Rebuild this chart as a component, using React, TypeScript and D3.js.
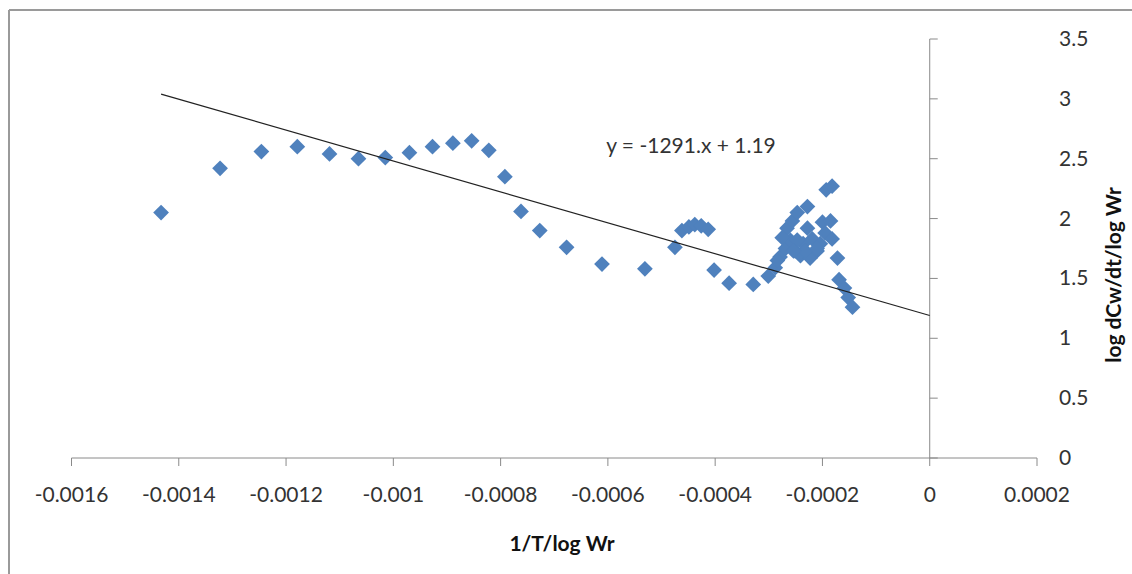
import React from 'react';
import * as d3 from 'd3';

// scatter values
const xVals = [
  -0.001433, -0.001323, -0.001246, -0.001179, -0.001119, -0.001065, -0.001015, -0.00097,
  -0.000927, -0.000889, -0.000854, -0.000822, -0.000792, -0.000762, -0.000727, -0.000677,
  -0.000611, -0.000531, -0.000475, -0.000462, -0.000449, -0.000438, -0.000426, -0.000413,
  -0.000402, -0.000374, -0.000329, -0.000301, -0.000288, -0.000279, -0.000269, -0.00026,
  -0.000266, -0.000256, -0.000247, -0.000228, -0.000251, -0.000236, -0.000241, -0.000223,
  -0.00021, -0.000219, -0.0002, -0.000185, -0.000195, -0.000182, -0.000172, -0.000193,
  -0.000182, -0.000169, -0.000159, -0.000152, -0.000144, -0.000204, -0.000232,
  -0.000228, -0.000275, -0.000247, -0.000254, -0.00021, -0.000284,
];
const yVals = [
  2.05, 2.42, 2.56, 2.6, 2.54, 2.5, 2.51, 2.55,
  2.6, 2.63, 2.65, 2.57, 2.35, 2.06, 1.9, 1.76,
  1.62, 1.58, 1.76, 1.9, 1.93, 1.95, 1.94, 1.91,
  1.57, 1.46, 1.45, 1.52, 1.59, 1.68, 1.75, 1.82,
  1.92, 1.98, 2.05, 2.1, 1.73, 1.79, 1.69, 1.67,
  1.73, 1.83, 1.97, 1.98, 1.88, 1.83, 1.67, 2.24,
  2.27, 1.49, 1.42, 1.34, 1.26, 1.79, 1.73,
  1.92, 1.84, 1.82, 1.73, 1.75, 1.65,
];

const xTicks = [-0.0016, -0.0014, -0.0012, -0.001, -0.0008, -0.0006, -0.0004, -0.0002, 0, 0.0002];
const xTickLabels = ['-0.0016', '-0.0014', '-0.0012', '-0.001', '-0.0008', '-0.0006', '-0.0004', '-0.0002', '0', '0.0002'];
const yTicks = [0, 0.5, 1, 1.5, 2, 2.5, 3, 3.5];
const yTickLabels = ['0', '0.5', '1', '1.5', '2', '2.5', '3', '3.5'];

const slope = -1291;
const intercept = 1.19;
const equation = 'y = -1291.x + 1.19';
const xTitle = '1/T/log Wr';
const yTitle = 'log dCw/dt/log Wr';

const W = 1132;
const H = 574;
const font = 'Lato, "Open Sans", sans-serif';
const axisColor = '#8a8a8a';
const textColor = '#333';

export default function App() {
  const x = d3.scaleLinear().domain([-0.0016, 0.0002]).range([71.5, 1037]);
  const y = d3.scaleLinear().domain([0, 3.5]).range([458, 39]);

  const points = xVals.map((v, i) => [v, yVals[i]] as [number, number]);
  const diamond = d3.symbol(d3.symbolSquare, 124)();

  const xMin = d3.min(xVals) as number;
  const trend = d3.line<number>()
    .x((d) => x(d))
    .y((d) => y(slope * d + intercept));

  const x0 = x(0);
  const y0 = y(0);

  return (
    <svg width={W} height={H} style={{ display: 'block', background: '#fff' }}>
      <style>{'body{margin:0}'}</style>
      {/* frame: only top and left edges show */}
      <line x1={9} y1={10} x2={W} y2={10} stroke="#9a9a9a" strokeWidth={2} />
      <line x1={9} y1={10} x2={9} y2={H} stroke="#9a9a9a" strokeWidth={2} />

      {/* x axis */}
      <line x1={x(-0.0016)} y1={y0} x2={x(0.0002)} y2={y0} stroke={axisColor} strokeWidth={1} />
      {xTicks.map((t, i) => (
        <g key={'xt' + i}>
          <line x1={x(t)} y1={y0} x2={x(t)} y2={y0 + 8} stroke={axisColor} />
          <text x={x(t)} y={502} textAnchor="middle" fontFamily={font} fontSize={21} fill={textColor}>
            {xTickLabels[i]}
          </text>
        </g>
      ))}

      {/* y axis crossing at x = 0 */}
      <line x1={x0} y1={y(3.5)} x2={x0} y2={y0} stroke={axisColor} strokeWidth={1} />
      {yTicks.map((t, i) => (
        <g key={'yt' + i}>
          <line x1={x0} y1={y(t)} x2={x0 + 8} y2={y(t)} stroke={axisColor} />
          <text x={1059} y={y(t) + 7} textAnchor="start" fontFamily={font} fontSize={21} fill={textColor}>
            {yTickLabels[i]}
          </text>
        </g>
      ))}

      {/* points */}
      {points.map((p, i) => (
        <path
          key={'p' + i}
          d={diamond as string}
          transform={`translate(${x(p[0])},${y(p[1])}) rotate(45)`}
          fill="#4F81BD"
        />
      ))}

      {/* linear trendline */}
      <path d={trend([xMin, 0]) as string} fill="none" stroke="#222" strokeWidth={1.2} />
      <text x={691} y={153} textAnchor="middle" fontFamily={font} fontSize={21} fill={textColor}>
        {equation}
      </text>

      {/* axis titles */}
      <text x={562} y={551} textAnchor="middle" fontFamily={font} fontSize={21} fontWeight="bold" fill="#111">
        {xTitle}
      </text>
      <text
        transform="translate(1121,275) rotate(-90)"
        textAnchor="middle"
        fontFamily={font}
        fontSize={21}
        fontWeight="bold"
        fill="#111"
      >
        {yTitle}
      </text>
    </svg>
  );
}
